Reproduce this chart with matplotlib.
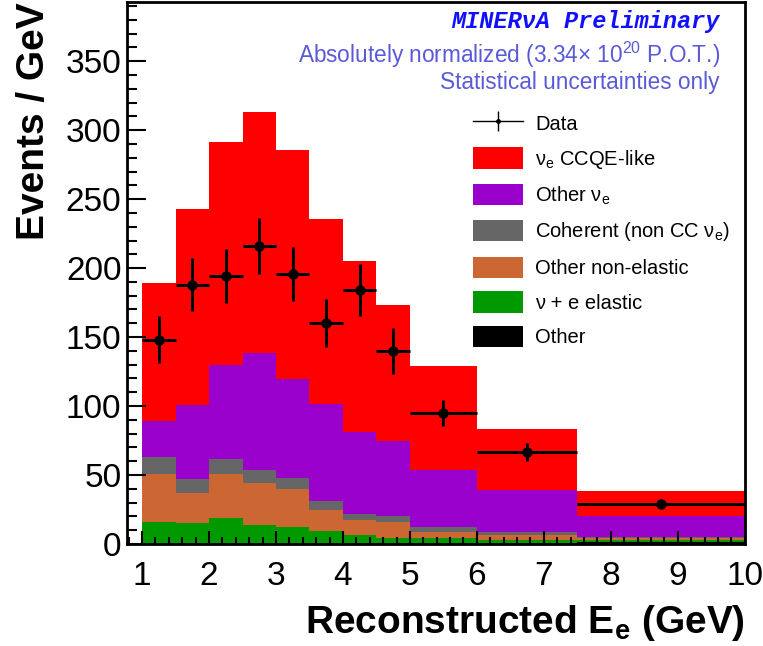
import numpy as np
import matplotlib
matplotlib.use("Agg")
import matplotlib.pyplot as plt
from matplotlib.patches import Patch
from matplotlib.ticker import MultipleLocator

plt.rcParams['font.family'] = ['Liberation Sans', 'DejaVu Sans']
plt.rcParams['mathtext.fontset'] = 'custom'
plt.rcParams['mathtext.rm'] = 'Liberation Sans'
plt.rcParams['mathtext.it'] = 'Liberation Sans:italic'
plt.rcParams['mathtext.bf'] = 'Liberation Sans:bold'

# bin edges in GeV
edges = [1, 1.5, 2, 2.5, 3, 3.5, 4, 4.5, 5, 6, 7.5, 10]

# MC components, events / GeV (stacked bottom to top)
other = [0.5, 0.5, 0.5, 0.5, 0.5, 0.5, 0.5, 0.5, 0.5, 0.5, 1.5]
nue_elastic = [15.1, 14.6, 18.0, 13.2, 11.7, 9.1, 5.9, 4.0, 3.9, 2.4, 1.5]
other_nonelastic = [34.9, 21.6, 32.2, 30.3, 27.4, 15.0, 10.9, 11.4, 4.3, 3.4, 1.5]
coherent = [12.5, 10.2, 10.9, 9.9, 8.2, 6.5, 4.1, 4.3, 3.6, 2.4, 0.5]
other_nue = [26.0, 53.9, 68.4, 84.5, 71.9, 70.5, 59.4, 54.5, 41.6, 30.1, 15.2]
ccqe_like = [100.0, 142.2, 161.6, 174.6, 166.3, 133.9, 124.2, 98.3, 75.4, 44.6, 17.9]

# data points
data = [148, 188, 194, 216, 196, 160, 184, 140, 95, 66.7, 29.1]
data_err = [17, 19, 19.5, 20.5, 19.5, 17.5, 19, 16.5, 9.7, 6.5, 3.4]

components = [
    (other, '#000000', 'Other'),
    (nue_elastic, '#009900', r'ν + e elastic'),
    (other_nonelastic, '#cc6633', 'Other non-elastic'),
    (coherent, '#666666', r'Coherent (non CC ν$_{\rm e}$)'),
    (other_nue, '#9900cc', r'Other ν$_{\rm e}$'),
    (ccqe_like, '#ff0000', r'ν$_{\rm e}$ CCQE-like'),
]

edges = np.array(edges)
centers = 0.5 * (edges[1:] + edges[:-1])
halfw = 0.5 * (edges[1:] - edges[:-1])

fig = plt.figure(figsize=(7.63, 6.46), dpi=100)
ax = fig.add_axes([0.1665, 0.158, 0.8095, 0.839])

bottom = np.zeros(len(centers))
for vals, col, lab in components:
    vals = np.array(vals)
    ax.stairs(bottom + vals, edges, baseline=bottom, fill=True, color=col, lw=0)
    bottom = bottom + vals

ax.errorbar(centers, data, xerr=halfw, yerr=data_err, fmt='o', color='black',
            ms=6.5, elinewidth=2.2, capsize=0, zorder=5)
# thin version of the marker, only for the legend
leg_data = ax.errorbar([np.nan], [np.nan], yerr=[1], fmt='o-', color='black',
                       ms=2.5, lw=1, elinewidth=1, capsize=0)

ax.set_xlim(0.775, 10)
ax.set_ylim(0, 393)

ax.xaxis.set_major_locator(MultipleLocator(1))
ax.xaxis.set_minor_locator(MultipleLocator(0.2))
ax.yaxis.set_major_locator(MultipleLocator(50))
ax.yaxis.set_minor_locator(MultipleLocator(10))
ax.tick_params(axis='both', which='both', direction='in', top=False, right=False,
               width=1.5, labelsize=24)
ax.tick_params(axis='x', which='major', length=9.5, pad=12)
ax.tick_params(axis='x', which='minor', length=5)
ax.tick_params(axis='y', which='major', length=14, pad=4)
ax.tick_params(axis='y', which='minor', length=7)
for sp in ax.spines.values():
    sp.set_linewidth(2)

ax.set_xlabel(r'Reconstructed E$_\mathbf{e}$ (GeV)', fontsize=28, fontweight='bold',
              loc='right', labelpad=8)
ax.set_ylabel('Events / GeV', fontsize=28, fontweight='bold', loc='top', labelpad=10)

ax.text(0.9595, 0.963, 'MINERνA Preliminary', transform=ax.transAxes, ha='right',
        va='center', fontsize=17, color='#1010ff', family='Liberation Mono',
        fontweight='bold', fontstyle='italic')
ax.text(0.9595, 0.903, r'Absolutely normalized (3.34$\times$ 10$^{20}$ P.O.T.)',
        transform=ax.transAxes, ha='right', va='center', fontsize=16.3, color='#5a5ad8')
ax.text(0.9595, 0.851, 'Statistical uncertainties only', transform=ax.transAxes,
        ha='right', va='center', fontsize=16.3, color='#5a5ad8')

handles = [leg_data] + [Patch(facecolor=c, edgecolor='none') for _, c, _ in components[::-1]]
labels = ['Data'] + [l for _, _, l in components[::-1]]
leg = ax.legend(handles, labels, loc='upper left', bbox_to_anchor=(0.56, 0.796),
                frameon=False, fontsize=14.5, borderpad=0, borderaxespad=0,
                handlelength=2.5, handleheight=1.25, handletextpad=0.6,
                labelspacing=0.66)

fig.savefig('out.png', dpi=100)
